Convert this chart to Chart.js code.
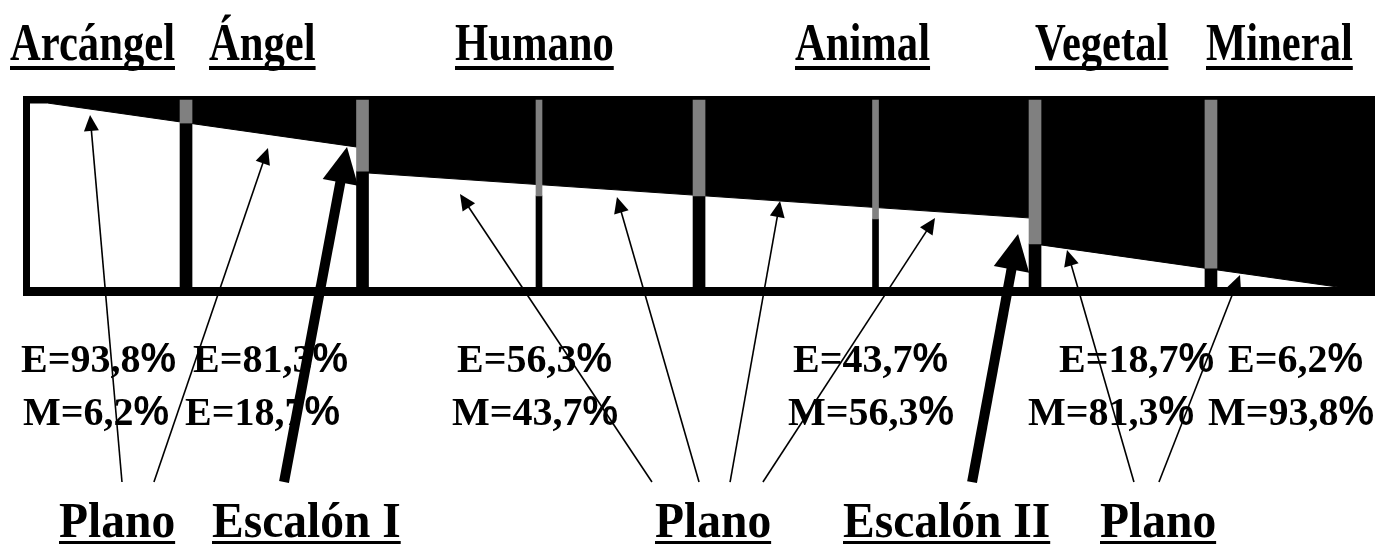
<!DOCTYPE html>
<html>
<head>
<meta charset="utf-8">
<script src="https://cdn.jsdelivr.net/npm/chart.js@4.4.0/dist/chart.umd.min.js"></script>
<style>
html, body { margin: 0; padding: 0; background: #fff; }
canvas { display: block; }
</style>
</head>
<body>
<canvas id="planos" width="1394" height="544"></canvas>
<script>
// ======================= DATOS =======================
const planos = ["Arcángel", "Ángel", "Humano", "Animal", "Vegetal", "Mineral"];
const espiritu = [93.8, 81.3, 56.3, 43.7, 18.7, 6.2];
const materia = [6.2, 18.7, 43.7, 56.3, 81.3, 93.8];
const letraSegunda = ["M", "E", "M", "M", "M", "M"]; // el original pone "E" en Ángel
const etiquetasAbajo = ["Plano", "Escalón I", "Plano", "Escalón II", "Plano"];

// frontera blanco / negro  (x: 0-100 a lo ancho del marco, y: % de E)
const fronteraX = [0, 1.3, 24.8, 24.8, 75.2, 75.2, 97.8, 100];
const fronteraE = [100, 100, 75.7, 62.2, 37.3, 23.3, 0, 0];

// separadores verticales
const separadorX = [11.67, 24.87, 38.07, 50.04, 63.24, 75.17, 88.33];
const separadorGris = [89.1, 63.0, 49.5, 49.5, 37.0, 23.4, 10.3];
const separadorFino = [false, false, true, false, true, false, false];
const topeGris = 101.6;

// flechas (desde las etiquetas de abajo hasta los planos)
const flechaDesdeX = [6.88, 9.27, 46.52, 50.04, 52.36, 54.82, 82.57, 84.44, 19.0, 70.46];
const flechaDesdeE = [-106, -106, -106, -106, -106, -106, -106, -106, -106, -106];
const flechaHastaX = [4.49, 17.8, 32.16, 43.9, 56.1, 67.69, 77.56, 90.5, 23.71, 73.9];
const flechaHastaE = [93.5, 75.5, 50.5, 48.9, 46.7, 37.5, 20.1, 6.5, 76.1, 28.8];
const flechaGruesa = [false, false, false, false, false, false, false, false, true, true];

// ======================= POSICION DE LOS TEXTOS =======================
const xArriba = [10, 209, 455, 795, 1035, 1206];
const xLinea1 = [21, 193, 457, 793, 1059, 1228];
const xLinea2 = [23, 185, 452, 788, 1028, 1208];
const xAbajo = [59, 212, 655, 843, 1100];

const fmt = v => v.toFixed(1).replace(".", ",");

function separadores(fino, parte) {
    const out = [];
    separadorX.forEach((x, i) => {
        if (separadorFino[i] !== fino) return;
        out.push({ x: x, y: parte === "gris" ? [separadorGris[i], topeGris] : [0, separadorGris[i]] });
    });
    return out;
}

function texto(ctx, str, left, base, font, sx) {
    ctx.save();
    ctx.font = font;
    const w = ctx.measureText(str).width * sx;
    ctx.translate(left, base);
    ctx.scale(sx, 1);
    ctx.fillText(str, 0, 0);
    ctx.restore();
    return w;
}

function flecha(ctx, x0, y0, x1, y1, grosor, largo, ancho) {
    const ang = Math.atan2(y1 - y0, x1 - x0);
    const bx = x1 - Math.cos(ang) * largo;
    const by = y1 - Math.sin(ang) * largo;
    ctx.lineWidth = grosor;
    ctx.beginPath();
    ctx.moveTo(x0, y0);
    ctx.lineTo(bx + Math.cos(ang), by + Math.sin(ang));
    ctx.stroke();
    ctx.beginPath();
    ctx.moveTo(x1, y1);
    ctx.lineTo(bx + Math.sin(ang) * ancho / 2, by - Math.cos(ang) * ancho / 2);
    ctx.lineTo(bx - Math.sin(ang) * ancho / 2, by + Math.cos(ang) * ancho / 2);
    ctx.closePath();
    ctx.fill();
}

// ======================= MARCO =======================
const marco = {
    id: "marco",
    beforeDatasetsDraw(chart) {
        const { ctx, chartArea: a } = chart;
        ctx.save();
        ctx.fillStyle = "#000";
        ctx.fillRect(a.left - 7, a.top - 7, a.right - a.left + 15, 7);
        ctx.fillRect(a.left - 7, a.bottom, a.right - a.left + 15, 9);
        ctx.fillRect(a.left - 7, a.top - 7, 7, a.bottom - a.top + 16);
        ctx.fillRect(a.right, a.top - 7, 8, a.bottom - a.top + 16);
        ctx.restore();
    }
};

// ======================= TEXTOS Y FLECHAS =======================
const rotulos = {
    id: "rotulos",
    afterDraw(chart) {
        const { ctx, scales: { x, y } } = chart;
        ctx.save();
        ctx.fillStyle = "#000";
        ctx.strokeStyle = "#000";
        ctx.textBaseline = "alphabetic";

        // nombres de los planos arriba
        planos.forEach((p, i) => {
            const w = texto(ctx, p, xArriba[i], 60, "bold 52px 'Liberation Serif'", 0.82);
            ctx.fillRect(xArriba[i], 66, w, 4);
        });

        // porcentajes
        planos.forEach((p, i) => {
            let w = texto(ctx, "E=" + fmt(espiritu[i]), xLinea1[i], 372, "bold 40px 'Liberation Serif'", 1);
            texto(ctx, "%", xLinea1[i] + w, 372, "bold 43px 'Liberation Sans'", 0.93);
            w = texto(ctx, letraSegunda[i] + "=" + fmt(materia[i]), xLinea2[i], 425, "bold 40px 'Liberation Serif'", 1);
            texto(ctx, "%", xLinea2[i] + w, 425, "bold 43px 'Liberation Sans'", 0.93);
        });

        // etiquetas de abajo
        etiquetasAbajo.forEach((t, i) => {
            const w = texto(ctx, t, xAbajo[i], 537, "bold 50px 'Liberation Serif'", 0.95);
            ctx.fillRect(xAbajo[i], 541, w, 4);
        });

        // flechas
        flechaDesdeX.forEach((fx, i) => {
            const x0 = x.getPixelForValue(fx), y0 = y.getPixelForValue(flechaDesdeE[i]);
            const x1 = x.getPixelForValue(flechaHastaX[i]), y1 = y.getPixelForValue(flechaHastaE[i]);
            if (flechaGruesa[i]) flecha(ctx, x0, y0, x1, y1, 10, 36, 36);
            else flecha(ctx, x0, y0, x1, y1, 1.6, 16, 15);
        });
        ctx.restore();
    }
};

new Chart(document.getElementById("planos"), {
    type: "line",
    data: {
        datasets: [
            {
                type: "bar", label: "gris", order: 1, grouped: false, clip: false,
                data: separadores(false, "gris"), backgroundColor: "#808080",
                barThickness: 12, borderWidth: 0
            },
            {
                type: "bar", label: "gris fino", order: 1, grouped: false, clip: false,
                data: separadores(true, "gris"), backgroundColor: "#808080",
                barThickness: 6, borderWidth: 0
            },
            {
                type: "bar", label: "negro", order: 2, grouped: false,
                data: separadores(false, "negro"), backgroundColor: "#000",
                barThickness: 12, borderWidth: 0
            },
            {
                type: "bar", label: "negro fino", order: 2, grouped: false,
                data: separadores(true, "negro"), backgroundColor: "#000",
                barThickness: 6, borderWidth: 0
            },
            {
                type: "line", label: "frontera", order: 3,
                data: fronteraX.map((v, i) => ({ x: v, y: fronteraE[i] })),
                borderColor: "#000", borderWidth: 1, backgroundColor: "#000",
                fill: "end", tension: 0, pointRadius: 0
            }
        ]
    },
    options: {
        responsive: false,
        animation: false,
        layout: { padding: { left: 30, right: 27, top: 103, bottom: 257 } },
        plugins: { legend: { display: false }, tooltip: { enabled: false } },
        scales: {
            x: { type: "linear", min: 0, max: 100, offset: false, display: false },
            y: { type: "linear", min: 0, max: 100, display: false }
        }
    },
    plugins: [marco, rotulos]
});
</script>
</body>
</html>
